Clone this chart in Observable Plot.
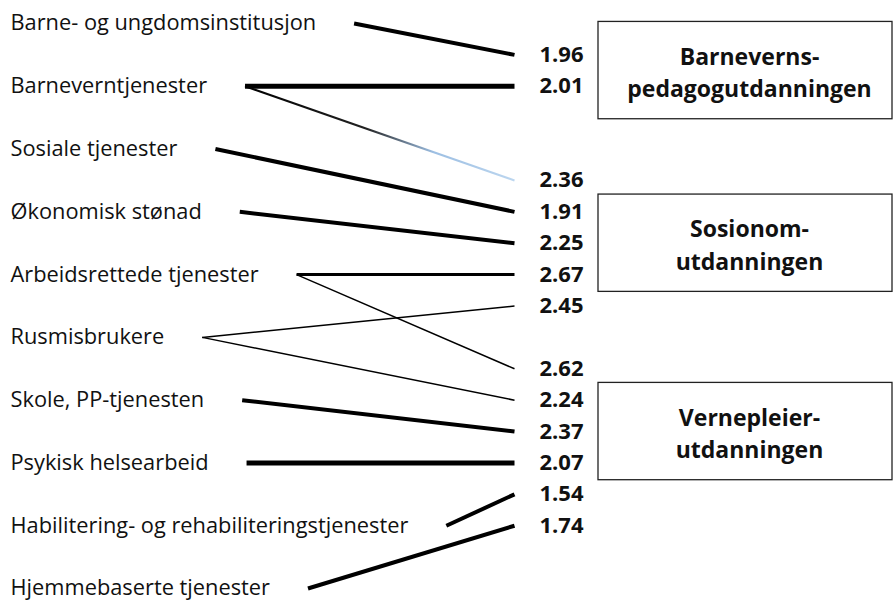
<!DOCTYPE html>
<html>
<head>
<meta charset="utf-8">
<script src="https://cdn.jsdelivr.net/npm/d3@7"></script>
<script src="https://cdn.jsdelivr.net/npm/@observablehq/plot@0.6"></script>
<style>
  html, body { margin: 0; padding: 0; background: #fff; }
  #chart svg { display: block; }
</style>
</head>
<body>
<div id="chart"></div>
<script>
// Workplaces (left column, in order)
const workplaces = [
  "Barne- og ungdomsinstitusjon",
  "Barneverntjenester",
  "Sosiale tjenester",
  "Økonomisk stønad",
  "Arbeidsrettede tjenester",
  "Rusmisbrukere",
  "Skole, PP-tjenesten",
  "Psykisk helsearbeid",
  "Habilitering- og rehabiliteringstjenester",
  "Hjemmebaserte tjenester"
];

// Right column of values, one entry per half-row (empty = gap)
const valueColumn = ["", "1.96", "2.01", "", "", "2.36", "1.91", "2.25", "2.67",
                     "2.45", "", "2.62", "2.24", "2.37", "2.07", "1.54", "1.74"];

// Educations and the values that belong to each
const educations = ["Barneverns-\npedagogutdanningen", "Sosionom-\nutdanningen", "Vernepleier-\nutdanningen"];
const educationValues = [["1.96", "2.01"], ["1.91", "2.25", "2.67"], ["2.24", "2.37", "2.07"]];

// Connections: workplace -> value, with tie strength
const linkFrom = [
  "Barne- og ungdomsinstitusjon", "Barneverntjenester", "Barneverntjenester",
  "Sosiale tjenester", "Økonomisk stønad", "Arbeidsrettede tjenester",
  "Arbeidsrettede tjenester", "Rusmisbrukere", "Rusmisbrukere",
  "Skole, PP-tjenesten", "Psykisk helsearbeid",
  "Habilitering- og rehabiliteringstjenester", "Hjemmebaserte tjenester"
];
const linkTo = ["1.96", "2.01", "2.36", "1.91", "2.25", "2.67", "2.62", "2.45", "2.24", "2.37", "2.07", "1.54", "1.74"];
const linkStrength = ["sterk", "sterkest", "avtakende", "sterk", "sterk", "middels", "svak", "svak", "svak", "sterk", "sterkest", "sterk", "sterk"];

// ---- styling / layout ----
const FONT = "'Open Sans', sans-serif";
const labelSize = 21.8;
const widthByStrength = {sterkest: 5, sterk: 4, middels: 3, svak: 1.5, avtakende: 2};
const labelX = 10, gap = 38, lineEndX = 514, valueX = 539;
const boxX1 = 598, boxX2 = 892, boxHalf = 1.55, textCX = 749;

const ctx = document.createElement("canvas").getContext("2d");
ctx.font = `${labelSize}px 'Open Sans'`;
const textWidth = s => ctx.measureText(s).width;

const leftRows = workplaces.map((name, i) => ({name, slot: 2 * i}));
const slotOf = v => valueColumn.indexOf(v);
const rightRows = valueColumn.map((v, i) => ({v, slot: i})).filter(d => d.v !== "");

const links = linkFrom.map((from, i) => ({
  from, to: linkTo[i], strength: linkStrength[i],
  y1: 2 * workplaces.indexOf(from),
  y2: slotOf(linkTo[i]),
  x1: labelX + textWidth(from) + gap,
  x2: lineEndX
}));

const boxes = educations.map((name, i) => {
  const slots = educationValues[i].map(slotOf);
  const c = d3.mean(slots);
  return {name, c, y1: c - boxHalf, y2: c + boxHalf};
});

const plot = Plot.plot({
  width: 893,
  height: 601,
  margin: 0,
  x: {type: "linear", domain: [0, 893], range: [0, 893], axis: null},
  y: {type: "linear", domain: [0, 18], range: [23, 588], axis: null},
  style: {fontFamily: FONT, background: "white"},
  marks: [
    Plot.rect(boxes, {x1: () => boxX1, x2: () => boxX2, y1: "y1", y2: "y2",
      fill: "white", stroke: "#222", strokeWidth: 1.3}),
    Plot.text(boxes, {x: () => textCX, y: "c", text: "name", fontSize: 23,
      fontWeight: "bold", lineHeight: 1.4, fill: "#111", textAnchor: "middle"}),
    Plot.link(links.filter(d => d.strength !== "avtakende"), {
      x1: "x1", y1: "y1", x2: "x2", y2: "y2",
      stroke: "black", strokeWidth: d => widthByStrength[d.strength]}),
    Plot.link(links.filter(d => d.strength === "avtakende"), {
      x1: "x1", y1: "y1", x2: "x2", y2: "y2",
      stroke: "url(#fade)", strokeWidth: d => widthByStrength[d.strength]}),
    Plot.text(leftRows, {x: () => labelX, y: "slot", text: "name", textAnchor: "start",
      fontSize: labelSize, fill: "#111"}),
    Plot.text(rightRows, {x: () => valueX, y: "slot", text: "v", textAnchor: "start",
      fontSize: 22, fontWeight: "bold", fill: "#111"})
  ]
});

d3.select(plot).insert("defs", ":first-child").html(`
  <linearGradient id="fade" x1="0" x2="1" y1="0" y2="0">
    <stop offset="0" stop-color="#000"/>
    <stop offset="0.45" stop-color="#222"/>
    <stop offset="0.7" stop-color="#9dbfe3"/>
    <stop offset="1" stop-color="#bcd6ef"/>
  </linearGradient>`);

document.getElementById("chart").appendChild(plot);
</script>
</body>
</html>
